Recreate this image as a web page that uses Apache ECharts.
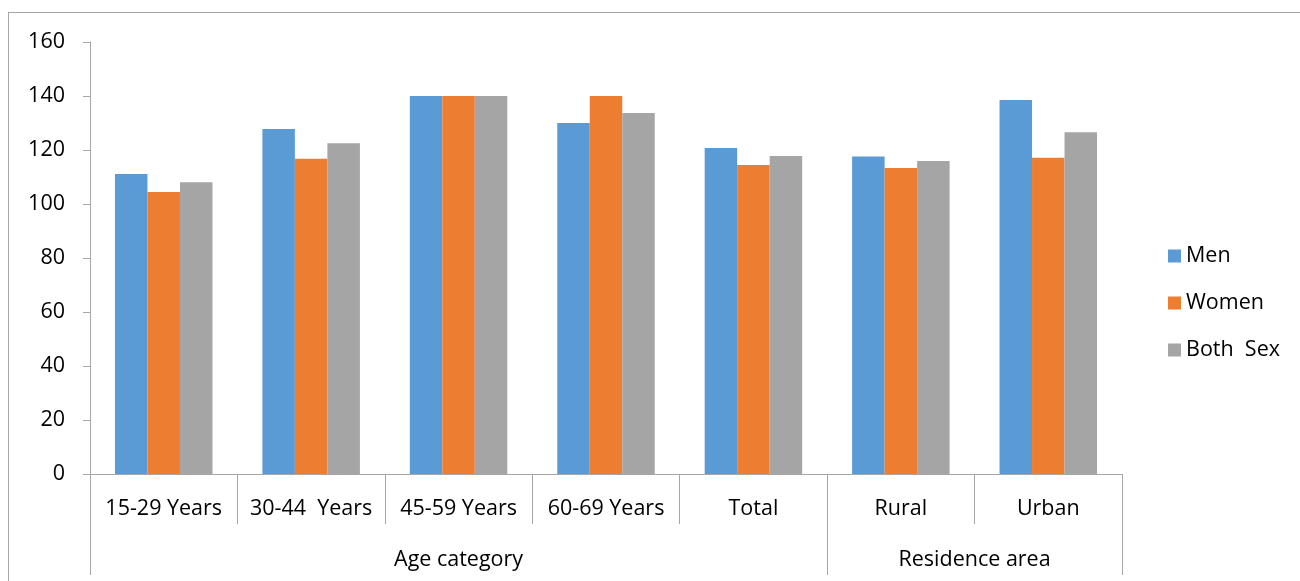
<!DOCTYPE html>
<html>
<head>
<meta charset="utf-8">
<script src="https://cdn.jsdelivr.net/npm/echarts@6/dist/echarts.min.js"></script>
<style>
html,body{margin:0;padding:0;background:#fff;}
#wrap{position:relative;width:1300px;height:581px;}
#chart{position:absolute;left:0;top:0;width:1300px;height:581px;}
#frame{position:absolute;left:8px;top:12px;width:1292px;height:569px;border-left:1px solid #a6a6a6;border-top:1px solid #a6a6a6;box-sizing:border-box;pointer-events:none;}
</style>
</head>
<body>
<div id="wrap"><div id="chart"></div><div id="frame"></div></div>
<script>
const categories = ['15-29 Years', '30-44  Years', '45-59 Years', '60-69 Years', 'Total', 'Rural', 'Urban'];
const men = [111.1, 127.8, 140, 130, 120.7, 117.6, 138.5];
const women = [104.4, 116.8, 140, 140, 114.4, 113.3, 117.1];
const both = [108.1, 122.5, 140, 133.7, 117.8, 115.9, 126.6];
const seriesNames = ['Men', 'Women', 'Both  Sex'];
const groups = ['Age category', 'Residence area'];
const groupBounds = [0, 5, 7];
const yTicks = [0, 20, 40, 60, 80, 100, 120, 140, 160];

const FONT = '"Open Sans", sans-serif';
const FS = 21.5;
const AX = '#a6a6a6';
const chart = echarts.init(document.getElementById('chart'));
const groupMids = groups.map((g, i) => (groupBounds[i] + groupBounds[i + 1]) / 2);

chart.setOption({
  animation: false,
  grid: { left: 90, right: 178, top: 42, bottom: 107, containLabel: false },
  legend: {
    orient: 'vertical', left: 1163, top: 240,
    itemWidth: 13, itemHeight: 13, itemGap: 25,
    icon: 'rect',
    textStyle: { fontFamily: FONT, fontSize: FS, color: '#000', padding: [0, 0, 0, 0] },
    data: seriesNames
  },
  xAxis: [
    {
      type: 'category', data: categories, position: 'bottom',
      axisLine: { onZero: false, lineStyle: { color: AX, width: 1 } },
      axisTick: { show: true, length: 50, interval: 0, lineStyle: { color: AX } },
      axisLabel: { fontFamily: FONT, fontSize: FS, color: '#000', margin: 24, interval: 0 },
      splitLine: { show: false }
    },
    {
      type: 'value', min: 0, max: 7, position: 'bottom',
      axisLine: { show: false, onZero: false },
      axisTick: { show: true, length: 101, customValues: groupBounds, lineStyle: { color: AX } },
      axisLabel: {
        customValues: groupMids, fontFamily: FONT, fontSize: FS, color: '#000', margin: 75,
        formatter: v => groups[groupMids.indexOf(v)]
      },
      splitLine: { show: false }
    }
  ],
  yAxis: {
    type: 'value', min: 0, max: 160, interval: 20,
    axisLine: { show: true, lineStyle: { color: AX } },
    axisTick: { show: true, length: 7, lineStyle: { color: AX } },
    axisLabel: { fontFamily: FONT, fontSize: FS, color: '#000', margin: 25 },
    splitLine: { show: false }
  },
  series: [
    { name: seriesNames[0], type: 'bar', data: men, barWidth: 32.5, barGap: '0%', itemStyle: { color: '#5B9BD5' } },
    { name: seriesNames[1], type: 'bar', data: women, barWidth: 32.5, barGap: '0%', itemStyle: { color: '#ED7D31' } },
    { name: seriesNames[2], type: 'bar', data: both, barWidth: 32.5, barGap: '0%', itemStyle: { color: '#A5A5A5' } }
  ]
});
</script>
</body>
</html>
